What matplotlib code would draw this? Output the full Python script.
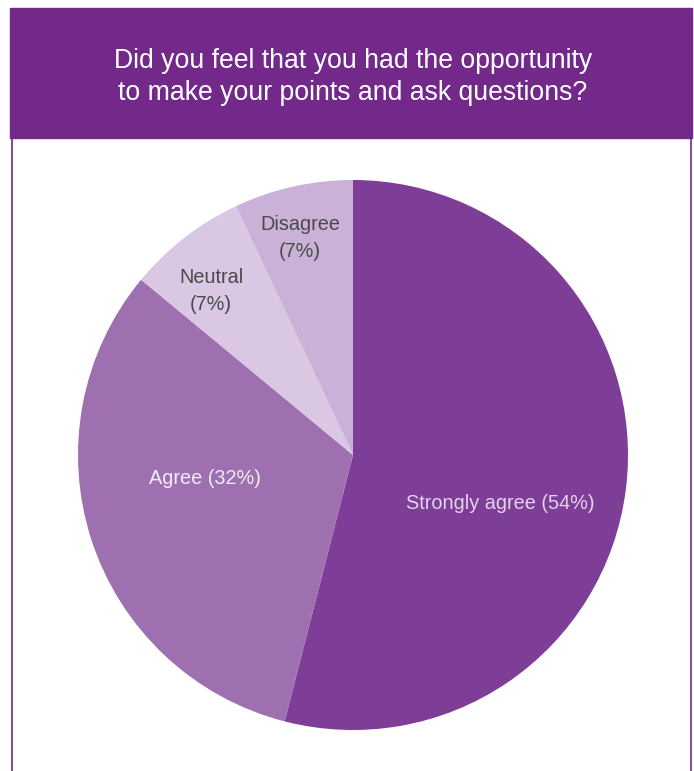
import matplotlib.pyplot as plt
from matplotlib.patches import Rectangle
from matplotlib.lines import Line2D

# survey data
categories = ["Strongly agree", "Agree", "Neutral", "Disagree"]
values = [54, 32, 7, 7]
colors = ["#7e3d96", "#9e70b0", "#d9c7e3", "#c9b1d8"]
label_colors = ["#e3d3ec", "#f3ecf6", "#4a4a4a", "#4a4a4a"]
title = "Did you feel that you had the opportunity\nto make your points and ask questions?"

plt.rcParams['font.family'] = ['Liberation Sans', 'DejaVu Sans']

W, H = 694, 771
fig = plt.figure(figsize=(W / 100, H / 100), dpi=100)

# header band and frame
purple = "#722989"
fig.patches.append(Rectangle((10 / W, 1 - 138 / H), 682 / W, 130 / H,
                             transform=fig.transFigure, color=purple, zorder=0))
for x in (11.5, 690.5):
    fig.lines.append(Line2D([x / W, x / W], [0, 1 - 138 / H],
                            transform=fig.transFigure, color=purple, lw=1.2))
fig.text(353 / W, 1 - 77 / H, title, ha="center", va="center", color="white",
         fontsize=19.2, linespacing=1.3)

# pie, centre (353, 455) radius 275 px
cx, cy, r = 353, 455, 275
ax = fig.add_axes([(cx - r) / W, (H - cy - r) / H, 2 * r / W, 2 * r / H])
ax.pie(values, colors=colors, startangle=90, counterclock=False,
       wedgeprops=dict(linewidth=0))
ax.set_xlim(-1, 1)
ax.set_ylim(-1, 1)
ax.set_aspect("equal")
ax.axis("off")

# label positions in pie units
label_pos = [(0.535, -0.175), (-0.538, -0.084), (-0.516, 0.596), (-0.193, 0.789)]
label_text = ["Strongly agree (54%)", "Agree (32%)", "Neutral\n(7%)", "Disagree\n(7%)"]
for (x, y), t, c in zip(label_pos, label_text, label_colors):
    ax.text(x, y, t, ha="center", va="center", color=c, fontsize=14.3,
            linespacing=1.5)

fig.savefig("out.png", dpi=100)
